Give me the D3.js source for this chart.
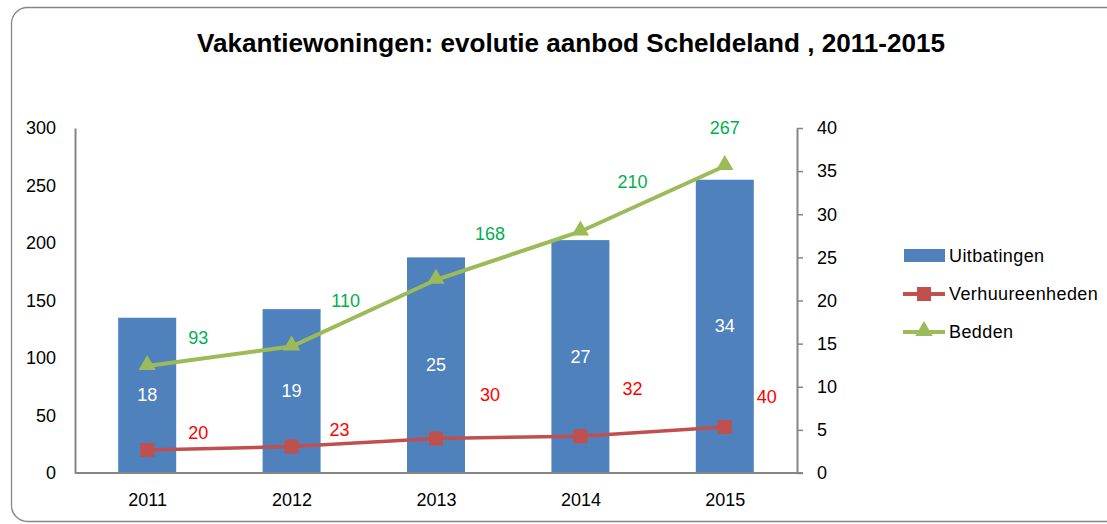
<!DOCTYPE html>
<html><head><meta charset="utf-8">
<script src="https://cdn.jsdelivr.net/npm/d3@7"></script>
<style>
html,body{margin:0;padding:0;background:#fff;}
svg text{font-family:"Liberation Sans",Arial,sans-serif;}
</style></head>
<body><svg id="c" width="1107" height="524"></svg>
<script>
// ---- data ----
const years = ["2011","2012","2013","2014","2015"];
const uitbatingen = [18, 19, 25, 27, 34];
const verhuureenheden = [20, 23, 30, 32, 40];
const bedden = [93, 110, 168, 210, 267];
const leftTicks = [0, 50, 100, 150, 200, 250, 300];
const rightTicks = [0, 5, 10, 15, 20, 25, 30, 35, 40];
const seriesNames = ["Uitbatingen", "Verhuureenheden", "Bedden"];
const title = "Vakantiewoningen: evolutie aanbod Scheldeland , 2011-2015";
// label placement nudges (layout only, in px)
const beddenLabelNudge = [[51,-28],[54,-46],[54,-46],[52,-50],[0,-38]];
const verhLabelNudge = [[51,-17],[48,-17],[54,-44],[52,-47],[42,-30]];

const svg = d3.select("#c");
const L = 75, R = 797, T = 128, B = 473;
const FS = 18;
const blue = "#4F81BD", red = "#C0504D", green = "#9BBB59", axisCol = "#868686";

// outer border
svg.append("rect").attr("x",11.5).attr("y",7.5).attr("width",1120).attr("height",514)
  .attr("rx",16).attr("fill","#fff").attr("stroke",axisCol).attr("stroke-width",1.3);

// title
const tt = svg.append("text").attr("x",571).attr("y",52).attr("text-anchor","middle")
  .attr("font-weight","bold").attr("font-size",24).attr("fill","#000").text(title);
const tw = tt.node().getComputedTextLength();
tt.attr("font-size", 24*748/tw);

const xc = d3.scalePoint().domain(years).range([L,R]).padding(0.5);
const yL = d3.scaleLinear().domain([0,300]).range([B,T]);
const yR = d3.scaleLinear().domain([0,40]).range([B,T]);

// bars
svg.append("g").selectAll("rect").data(uitbatingen).join("rect")
  .attr("x",(d,i)=>xc(years[i])-29).attr("width",58)
  .attr("y",d=>yR(d)).attr("height",d=>B-yR(d)).attr("fill",blue);

// axes
const axL = svg.append("g").attr("transform",`translate(${L},0)`)
  .call(d3.axisLeft(yL).tickValues(leftTicks).tickSize(0).tickPadding(19));
axL.select(".domain").attr("stroke",axisCol).attr("stroke-width",2);
axL.selectAll("text").attr("font-size",FS).attr("fill","#000").attr("font-family","Liberation Sans");

const axR = svg.append("g").attr("transform",`translate(${R},0)`)
  .call(d3.axisRight(yR).tickValues(rightTicks).tickSize(6).tickPadding(14).tickSizeOuter(0));
axR.select(".domain").attr("stroke",axisCol).attr("stroke-width",2);
axR.selectAll(".tick line").attr("stroke",axisCol).attr("stroke-width",1.5);
axR.selectAll("text").attr("font-size",FS).attr("fill","#000").attr("font-family","Liberation Sans");

const axB = svg.append("g").attr("transform",`translate(0,${B})`)
  .call(d3.axisBottom(xc).tickSize(0).tickPadding(20).tickSizeOuter(0));
axB.select(".domain").attr("stroke",axisCol).attr("stroke-width",2).attr("d",`M${L},0H${R+6}`);
axB.selectAll("text").attr("font-size",FS).attr("fill","#000").attr("font-family","Liberation Sans");

// bar labels
svg.append("g").selectAll("text").data(uitbatingen).join("text")
  .attr("x",(d,i)=>xc(years[i])).attr("y",d=>(yR(d)+B)/2+6).attr("text-anchor","middle")
  .attr("font-size",FS).attr("fill","#fff").text(d=>d);

// lines
const lineG = d3.line().x((d,i)=>xc(years[i])).y(d=>yL(d));
svg.append("path").datum(verhuureenheden).attr("d",lineG).attr("fill","none")
  .attr("stroke",red).attr("stroke-width",3.5);
svg.append("path").datum(bedden).attr("d",lineG).attr("fill","none")
  .attr("stroke",green).attr("stroke-width",4);

const sq = d3.symbol().type(d3.symbolSquare).size(196);
const tri = d3.symbol().type(d3.symbolTriangle).size(130);
svg.append("g").selectAll("path").data(verhuureenheden).join("path")
  .attr("d",sq).attr("transform",(d,i)=>`translate(${xc(years[i])},${yL(d)})`).attr("fill",red);
svg.append("g").selectAll("path").data(bedden).join("path")
  .attr("d",tri).attr("transform",(d,i)=>`translate(${xc(years[i])},${yL(d)-1})`).attr("fill",green);

// line labels
svg.append("g").selectAll("text").data(bedden).join("text")
  .attr("x",(d,i)=>xc(years[i])+beddenLabelNudge[i][0])
  .attr("y",(d,i)=>yL(d)+beddenLabelNudge[i][1]+6).attr("text-anchor","middle")
  .attr("font-size",FS).attr("fill","#00B050").text(d=>d);
svg.append("g").selectAll("text").data(verhuureenheden).join("text")
  .attr("x",(d,i)=>xc(years[i])+verhLabelNudge[i][0])
  .attr("y",(d,i)=>yL(d)+verhLabelNudge[i][1]+6).attr("text-anchor","middle")
  .attr("font-size",FS).attr("fill","#FF0000").text(d=>d);

// legend
const lg = svg.append("g");
const ly = [256, 294, 332];
lg.append("rect").attr("x",904).attr("y",ly[0]-7).attr("width",41).attr("height",13).attr("fill",blue);
lg.append("line").attr("x1",903).attr("x2",945).attr("y1",ly[1]).attr("y2",ly[1]).attr("stroke",red).attr("stroke-width",4);
lg.append("path").attr("d",sq).attr("transform",`translate(924,${ly[1]})`).attr("fill",red);
lg.append("line").attr("x1",903).attr("x2",945).attr("y1",ly[2]).attr("y2",ly[2]).attr("stroke",green).attr("stroke-width",4);
lg.append("path").attr("d",tri).attr("transform",`translate(924,${ly[2]-1})`).attr("fill",green);
lg.selectAll("text.l").data(seriesNames).join("text").attr("class","l")
  .attr("x",949).attr("y",(d,i)=>ly[i]+6).attr("font-size",FS).attr("letter-spacing",0.4)
  .attr("fill","#000").text(d=>d);
</script></body></html>
